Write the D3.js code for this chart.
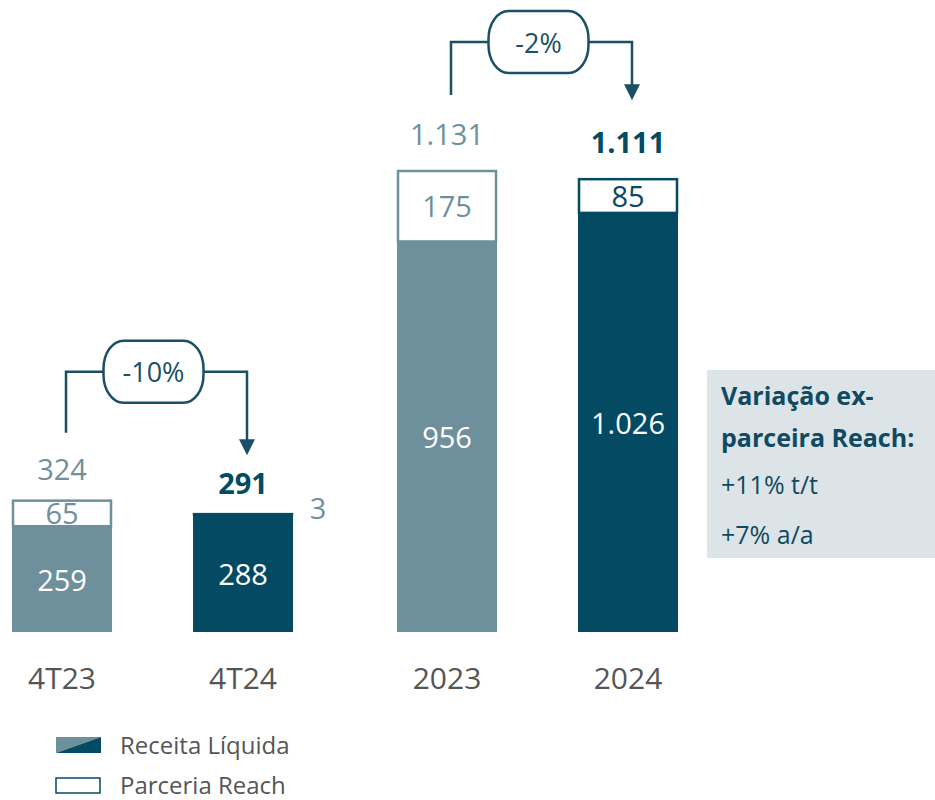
<!DOCTYPE html>
<html><head><meta charset="utf-8">
<script src="https://cdn.jsdelivr.net/npm/d3@7"></script>
<style>body{margin:0;background:#fff}svg{display:block;font-family:"Open Sans","Noto Sans",sans-serif}</style>
</head><body>
<script>
const categories = ["4T23","4T24","2023","2024"];
const groups = ["tri","tri","ano","ano"];
const receita = [259, 288, 956, 1026];
const reach = [65, 3, 175, 85];
const totals = ["324","291","1.131","1.111"];
const receitaLabels = ["259","288","956","1.026"];
const reachLabels = ["65","3","175","85"];
const highlight = [false, true, false, true];
const variations = [{from:"4T23", to:"4T24", label:"-10%"},{from:"2023", to:"2024", label:"-2%"}];
const legendItems = ["Receita Líquida","Parceria Reach"];
const noteLines = ["Variação ex-","parceira Reach:","+11% t/t","+7% a/a"];

const W = 935, H = 800;
const LIGHT = "#6e909c", DARK = "#044a62", LINE = "#1b4f66", GREY = "#555";
const svg = d3.select("body").append("svg").attr("width", W).attr("height", H);

const xGroup = d3.scaleBand().domain(["tri","ano"]).range([-40, 730]);
const xInner = d3.scalePoint().domain([0,1]).range([-90.5, 90.5]);
const idxInGroup = categories.map((c,i)=> groups.slice(0,i).filter(g=>g===groups[i]).length);
const cx = i => xGroup(groups[i]) + xGroup.bandwidth()/2 + xInner(idxInGroup[i]);
const barW = 100;
const y = d3.scaleLinear().domain([0, 1131]).range([632, 170]);
const style = {tri:{label:31, start:67, end:58}, ano:{label:37, start:75, end:78}};

const data = categories.map((c,i)=>({c, i, r:receita[i], p:reach[i], t:receita[i]+reach[i]}));

const g = svg.append("g");
g.selectAll("rect.rec").data(data).join("rect")
  .attr("x", d=>cx(d.i)-barW/2).attr("width", barW)
  .attr("y", d=>y(d.r)).attr("height", d=>y(0)-y(d.r))
  .attr("fill", d=>highlight[d.i]?DARK:LIGHT);
g.selectAll("rect.reach").data(data).join("rect")
  .attr("x", d=>cx(d.i)-barW/2+1).attr("width", barW-2)
  .attr("y", d=>y(d.t)+1).attr("height", d=>Math.max(0,y(d.r)-y(d.t)-1))
  .attr("fill", "#fff")
  .attr("stroke", d=>highlight[d.i]?DARK:LIGHT).attr("stroke-width", 2.5);

g.selectAll("text.rl").data(data).join("text")
  .attr("x", d=>cx(d.i)).attr("y", d=>(y(d.r)+y(0))/2)
  .attr("text-anchor","middle").attr("dominant-baseline","central")
  .attr("fill","#fff").attr("font-size",29).text(d=>receitaLabels[d.i]);
g.selectAll("text.pl").data(data).join("text")
  .attr("x", d=> d.p < 20 ? cx(d.i)+barW/2+25 : cx(d.i))
  .attr("y", d=> d.p < 20 ? y(d.t)-6 : (y(d.t)+y(d.r))/2)
  .attr("text-anchor","middle").attr("dominant-baseline","central")
  .attr("fill", d=> d.p < 20 ? LIGHT : (highlight[d.i]?DARK:LIGHT))
  .attr("font-size",29).text(d=>reachLabels[d.i]);
g.selectAll("text.tl").data(data).join("text")
  .attr("x", d=>cx(d.i)).attr("y", d=>y(d.t)-style[groups[d.i]].label)
  .attr("text-anchor","middle").attr("dominant-baseline","central")
  .attr("fill", d=>highlight[d.i]?DARK:LIGHT)
  .attr("font-weight", d=>highlight[d.i]?"bold":"normal")
  .attr("font-size",29).text(d=>totals[d.i]);

g.selectAll("text.ax").data(data).join("text")
  .attr("x", d=>cx(d.i)).attr("y", 677)
  .attr("text-anchor","middle").attr("dominant-baseline","central")
  .attr("fill", GREY).attr("font-size",30).text(d=>d.c);

variations.forEach(v=>{
  const a = categories.indexOf(v.from), b = categories.indexOf(v.to);
  const st = style[groups[a]];
  const x1 = cx(a)+4, x2 = cx(b)+4;
  const ta = y(receita[a]+reach[a]), tb = y(receita[b]+reach[b]);
  const top = Math.min(ta, tb) - 128;
  const startY = ta - st.start, endY = tb - st.end;
  svg.append("path")
    .attr("d", `M${x1},${startY}V${top}H${x2}V${endY-14}`)
    .attr("fill","none").attr("stroke",LINE).attr("stroke-width",2.5);
  svg.append("path")
    .attr("d", `M${x2-8},${endY-16}L${x2+8},${endY-16}L${x2},${endY}Z`)
    .attr("fill",LINE);
  const mx = (x1+x2)/2 - 3;
  svg.append("rect").attr("x", mx-50).attr("y", top-31).attr("width",100).attr("height",62)
    .attr("rx",20).attr("ry",28).attr("fill","#fff").attr("stroke",LINE).attr("stroke-width",2.5);
  svg.append("text").attr("x",mx).attr("y",top).attr("text-anchor","middle")
    .attr("dominant-baseline","central").attr("fill",LINE).attr("font-size",27).text(v.label);
});

svg.append("rect").attr("x",707).attr("y",370).attr("width",228).attr("height",188).attr("fill","#dde4e8");
const noteY = [395, 437, 484, 534];
noteLines.forEach((t,i)=>{
  svg.append("text").attr("x",721).attr("y",noteY[i]).attr("dominant-baseline","central")
    .attr("fill", "#0f4a62").attr("font-size", 25).attr("font-weight", i<2?"bold":"normal").text(t);
});

const lg = svg.append("g");
lg.append("path").attr("d","M56,737H101L56,753Z").attr("fill",LIGHT);
lg.append("path").attr("d","M101,737V753H56Z").attr("fill",DARK);
lg.append("rect").attr("x",56).attr("y",778).attr("width",44).attr("height",15).attr("fill","#fff").attr("stroke",DARK).attr("stroke-width",1.5);
legendItems.forEach((t,i)=>{
  lg.append("text").attr("x",120).attr("y",744+i*40).attr("dominant-baseline","central")
    .attr("fill",GREY).attr("font-size",24).text(t);
});
</script>
</body></html>
